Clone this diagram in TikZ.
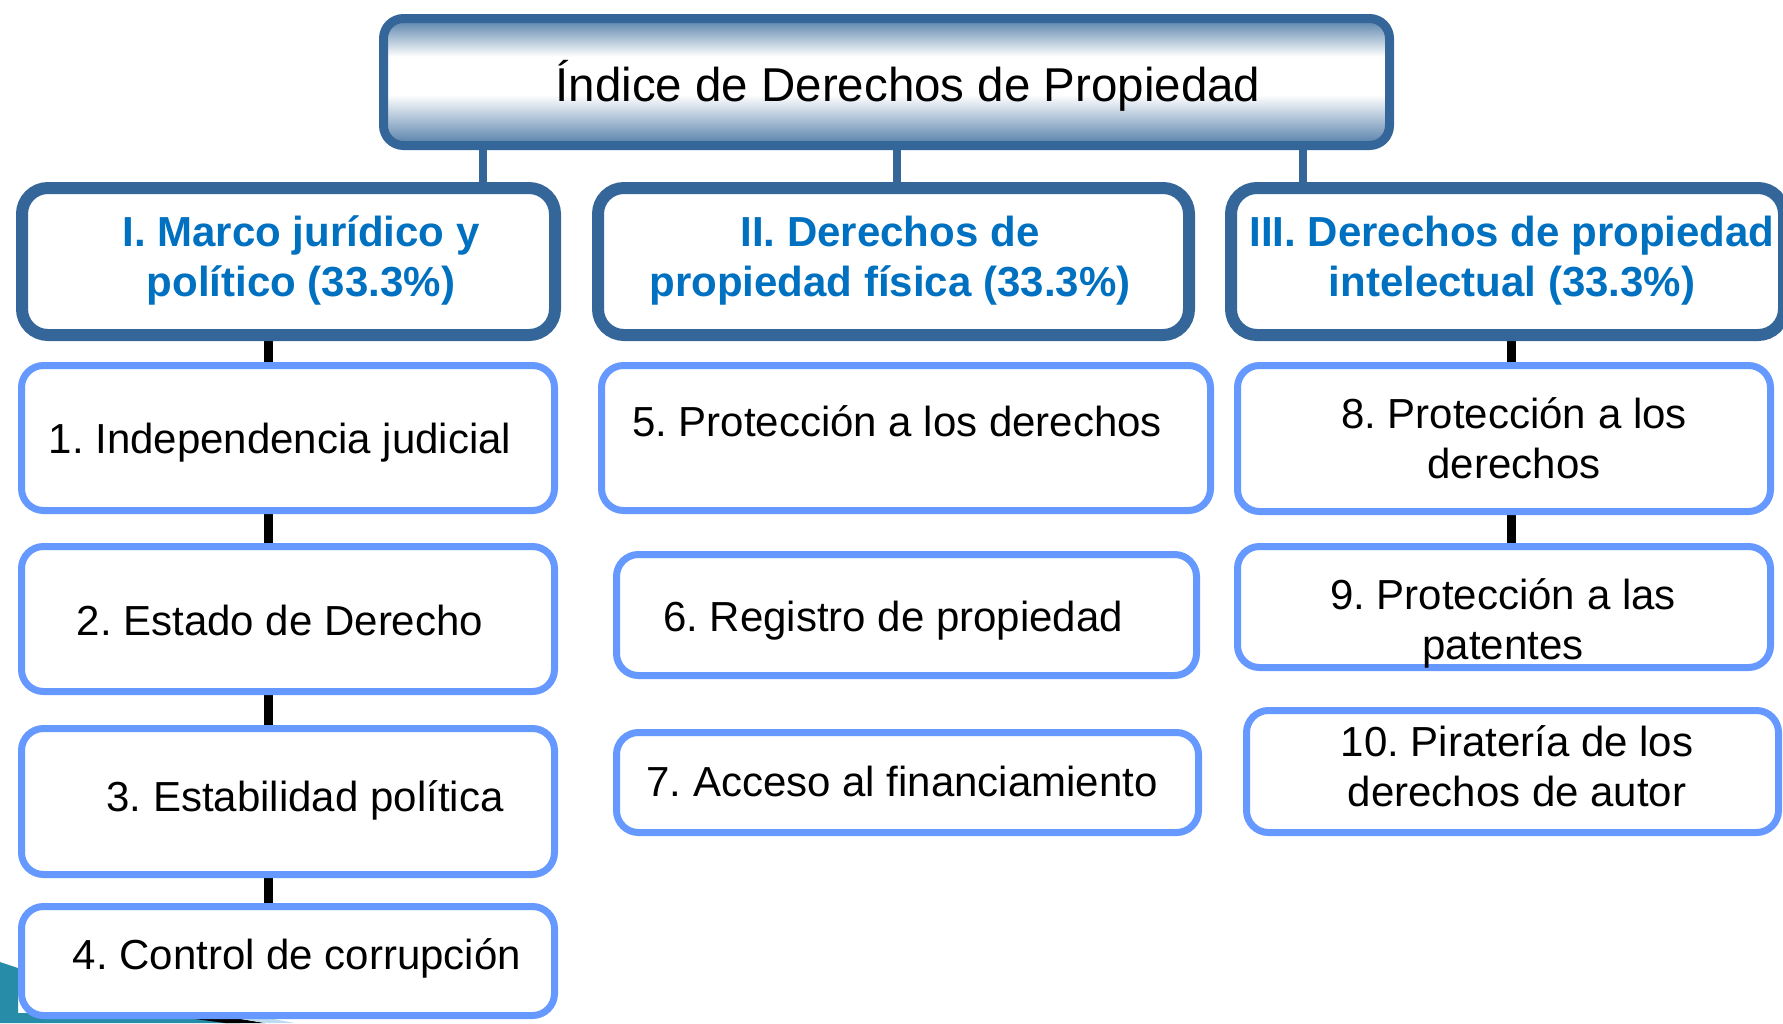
\documentclass[tikz,border=0pt]{standalone}
\usepackage{fontspec}
\setmainfont{Liberation Sans}
\usetikzlibrary{backgrounds}
\definecolor{hdrc}{RGB}{52,102,153}
\definecolor{catcol}{RGB}{0,112,192}
\definecolor{itemc}{RGB}{102,153,255}
\definecolor{tealc}{RGB}{38,140,168}
\definecolor{paleblue}{RGB}{190,220,240}
\pgfdeclareverticalshading{hdrshade}{100bp}{color(0bp)=(hdrc!85!white); color(25bp)=(hdrc!85!white); color(45bp)=(white); color(60bp)=(white); color(75bp)=(hdrc!85!white); color(100bp)=(hdrc!85!white)}
\newcommand\twol[2]{\begin{tabular}[t]{@{}c@{}}#1\\#2\end{tabular}}
\frenchspacing
\begin{document}
\begin{tikzpicture}[x=1pt,y=-1pt,
  hdrbox/.style={draw=hdrc, line width=9pt, rounded corners=20pt, shading=hdrshade, inner sep=0pt, outer sep=0pt},
  catbox/.style={draw=hdrc, line width=12pt, rounded corners=26pt, fill=white, inner sep=0pt, outer sep=0pt},
  itembox/.style={draw=itemc, line width=7pt, rounded corners=22pt, fill=white, inner sep=0pt, outer sep=0pt},
  titletext/.style={font=\fontsize{47.5}{56}\selectfont, inner sep=0pt, anchor=base},
  cattext/.style={font=\bfseries\fontsize{42}{50}\selectfont, text=catcol, inner sep=0pt, anchor=base},
  itemtext/.style={font=\fontsize{42}{50}\selectfont, inner sep=0pt, anchor=base},
  hconn/.style={draw=hdrc, line width=8pt},
  kconn/.style={draw=black, line width=9pt}
]
\useasboundingbox (0,0) rectangle (1783,1023);
\clip (0,0) rectangle (1783,1023);

% decoration bottom-left
\fill[tealc] (0,962) -- (18,968) -- (18,1013) -- (160,1013) -- (240,1023) -- (0,1023) -- cycle;
\fill[black] (150,1013) -- (205,1013) -- (265,1023) -- (225,1023) -- cycle;
\fill[paleblue] (205,1013) -- (240,1013) -- (295,1023) -- (265,1023) -- cycle;

% top box
\node[hdrbox, minimum width=1006pt, minimum height=127pt] (top) at (886.5,82) {};
\node[titletext] (toptxt) at (908,101) {Índice de Derechos de Propiedad};

% category boxes
\node[catbox, minimum width=533pt, minimum height=147pt] (catI) at (288.5,261.5) {};
\node[catbox, minimum width=591pt, minimum height=147pt] (catII) at (893.5,261.5) {};
\node[catbox, minimum width=553pt, minimum height=147pt] (catIII) at (1507.5,261.5) {};
\node[cattext] (catItxt) at (301,246) {\twol{I. Marco jurídico y}{político (33.3\%)}};
\node[cattext] (catIItxt) at (890,246) {\twol{II. Derechos de}{propiedad física (33.3\%)}};
\node[cattext] (catIIItxt) at (1512,246) {\twol{III. Derechos de propiedad}{intelectual (33.3\%)}};

% item boxes column 1
\node[itembox, minimum width=533pt, minimum height=145pt] (b1) at (288,438) {};
\node[itembox, minimum width=533pt, minimum height=145pt] (b2) at (288,619) {};
\node[itembox, minimum width=533pt, minimum height=146pt] (b3) at (288,801.5) {};
\node[itembox, minimum width=533pt, minimum height=109pt] (b4) at (288,961) {};
% column 2
\node[itembox, minimum width=609pt, minimum height=145pt] (b5) at (906,438) {};
\node[itembox, minimum width=580pt, minimum height=121pt] (b6) at (906.5,615) {};
\node[itembox, minimum width=582pt, minimum height=100pt] (b7) at (907.5,782.5) {};
% column 3
\node[itembox, minimum width=533pt, minimum height=146pt] (b8) at (1504,438.5) {};
\node[itembox, minimum width=533pt, minimum height=121pt] (b9) at (1504,607) {};
\node[itembox, minimum width=532pt, minimum height=122pt] (b10) at (1512.5,771.5) {};

% item texts
\node[itemtext] (t1) at (280,453) {1. Independencia judicial};
\node[itemtext] (t2) at (280,635) {2. Estado de Derecho};
\node[itemtext] (t3) at (305,811) {3. Estabilidad política};
\node[itemtext] (t4) at (297,969) {4. Control de corrupción};
\node[itemtext] (t5) at (897,436) {5. Protección a los derechos};
\node[itemtext] (t6) at (893,631) {6. Registro de propiedad};
\node[itemtext] (t7) at (902,796) {7. Acceso al financiamiento};
\node[itemtext] (t8) at (1514,428) {\twol{8. Protección a los}{derechos}};
\node[itemtext] (t9) at (1503,609) {\twol{9. Protección a las}{patentes}};
\node[itemtext] (t10) at (1517,756) {\twol{10. Piratería de los}{derechos de autor}};

% connectors
\coordinate (k1) at (483,0);
\coordinate (k2) at (897,0);
\coordinate (k3) at (1303,0);
\coordinate (k4) at (268,0);
\coordinate (k5) at (1511,0);
\begin{pgfonlayer}{background}
\draw[hconn] (top.south -| k1) -- (catI.north -| k1);
\draw[hconn] (top.south -| k2) -- (catII.north -| k2);
\draw[hconn] (top.south -| k3) -- (catIII.north -| k3);
\draw[kconn] (catI.south -| k4) -- (b1.north -| k4);
\draw[kconn] (b1.south -| k4) -- (b2.north -| k4);
\draw[kconn] (b2.south -| k4) -- (b3.north -| k4);
\draw[kconn] (b3.south -| k4) -- (b4.north -| k4);
\draw[kconn] (catIII.south -| k5) -- (b8.north -| k5);
\draw[kconn] (b8.south -| k5) -- (b9.north -| k5);
\end{pgfonlayer}
\end{tikzpicture}
\end{document}
